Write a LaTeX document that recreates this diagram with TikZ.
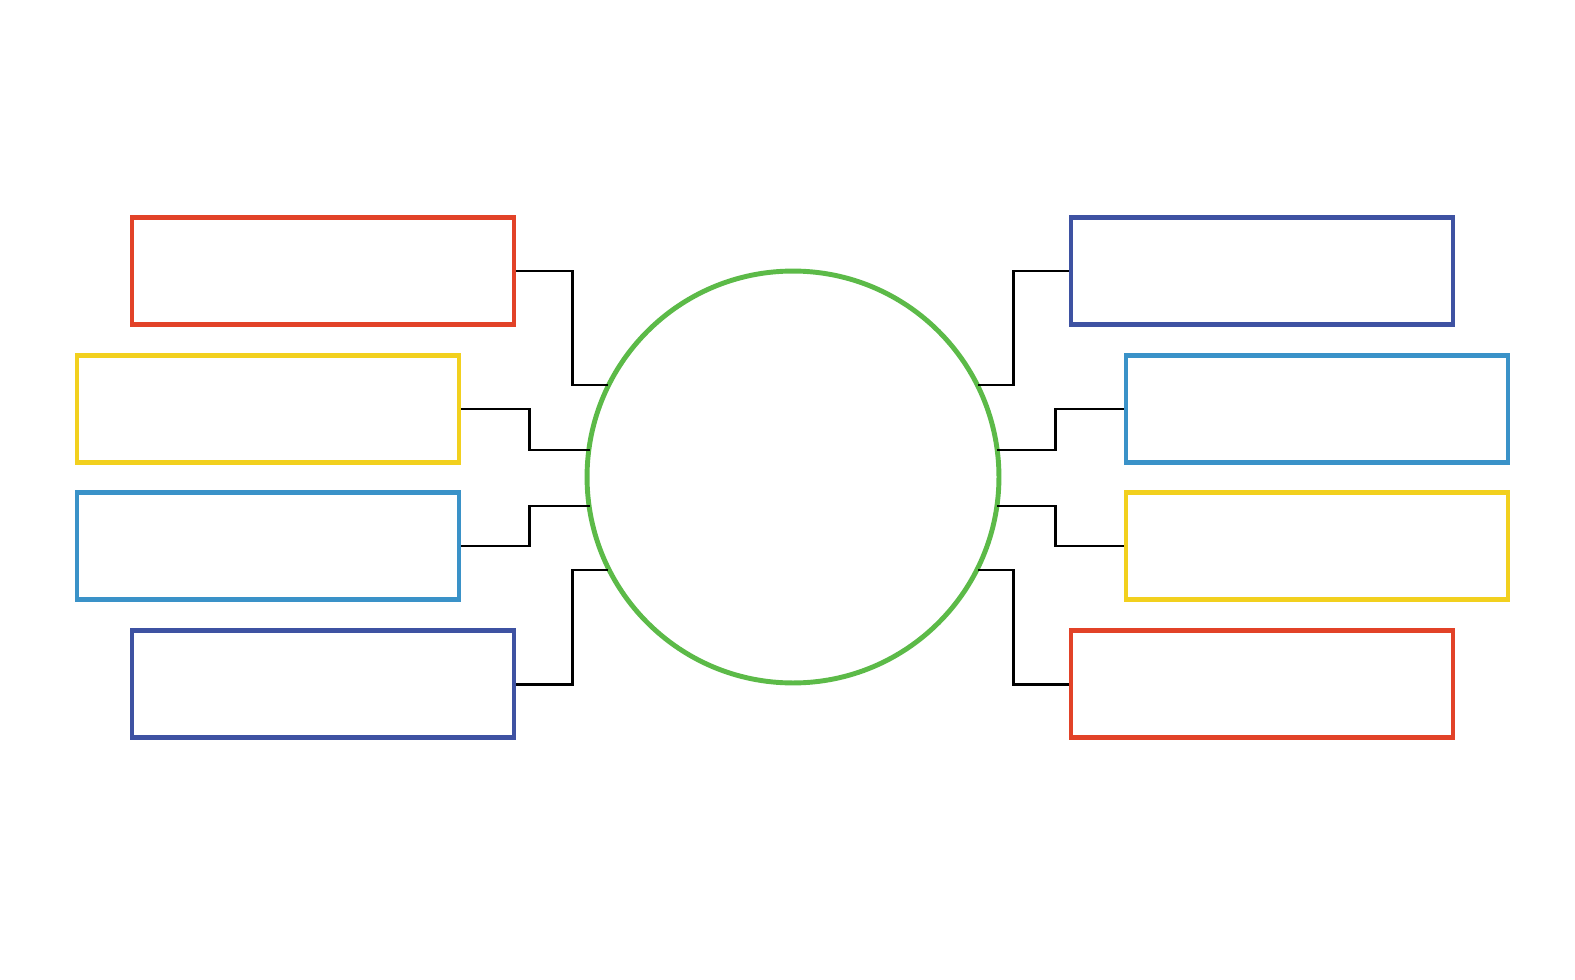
\documentclass[tikz,border=0pt]{standalone}
\usepackage{tikz}

\definecolor{boxred}{RGB}{226,66,40}
\definecolor{boxyellow}{RGB}{242,208,30}
\definecolor{boxlight}{RGB}{58,146,200}
\definecolor{boxdark}{RGB}{62,82,162}
\definecolor{ringgreen}{RGB}{92,186,72}

\begin{document}
\begin{tikzpicture}[
		x=0.02cm,y=-0.02cm,
		box/.style={draw=#1,line width=2.6pt,minimum width=7.64cm,minimum height=2.14cm,inner sep=0pt},
		link/.style={draw=black,line width=1.7pt}]
		
		\useasboundingbox (0,0) rectangle (1575,980);
		
		%mitte
		\node[draw=ringgreen,line width=2.8pt,circle,minimum size=8.24cm,inner sep=0pt] (hub) at (793,477) {};
		
		%kaesten links
		\foreach \name/\x/\y/\farbe in {l1/323/271/boxred, l2/268/409/boxyellow, l3/268/546/boxlight, l4/323/684/boxdark}
		\node[box=\farbe] (\name) at (\x,\y) {};
		
		%kaesten rechts
		\foreach \name/\x/\y/\farbe in {r1/1262/271/boxdark, r2/1317/409/boxlight, r3/1317/546/boxyellow, r4/1262/684/boxred}
		\node[box=\farbe] (\name) at (\x,\y) {};
		
		%anschluesse am kreis
		\foreach \name/\x/\y in {a1/608/385, a2/590/450, a3/590/506, a4/608/570, b1/978/385, b2/997/450, b3/997/506, b4/978/570}
		\coordinate (\name) at (\x,\y);
		
		%verbindungen
		\foreach \von/\nach/\dx in {l1/a1/56, l2/a2/68, l3/a3/68, l4/a4/56}
		\draw[link] (\von.east) -- ++(\dx,0) |- (\nach);
		\foreach \von/\nach/\dx in {r1/b1/-55, r2/b2/-68, r3/b3/-68, r4/b4/-55}
		\draw[link] (\von.west) -- ++(\dx,0) |- (\nach);
		
	\end{tikzpicture}
\end{document}
